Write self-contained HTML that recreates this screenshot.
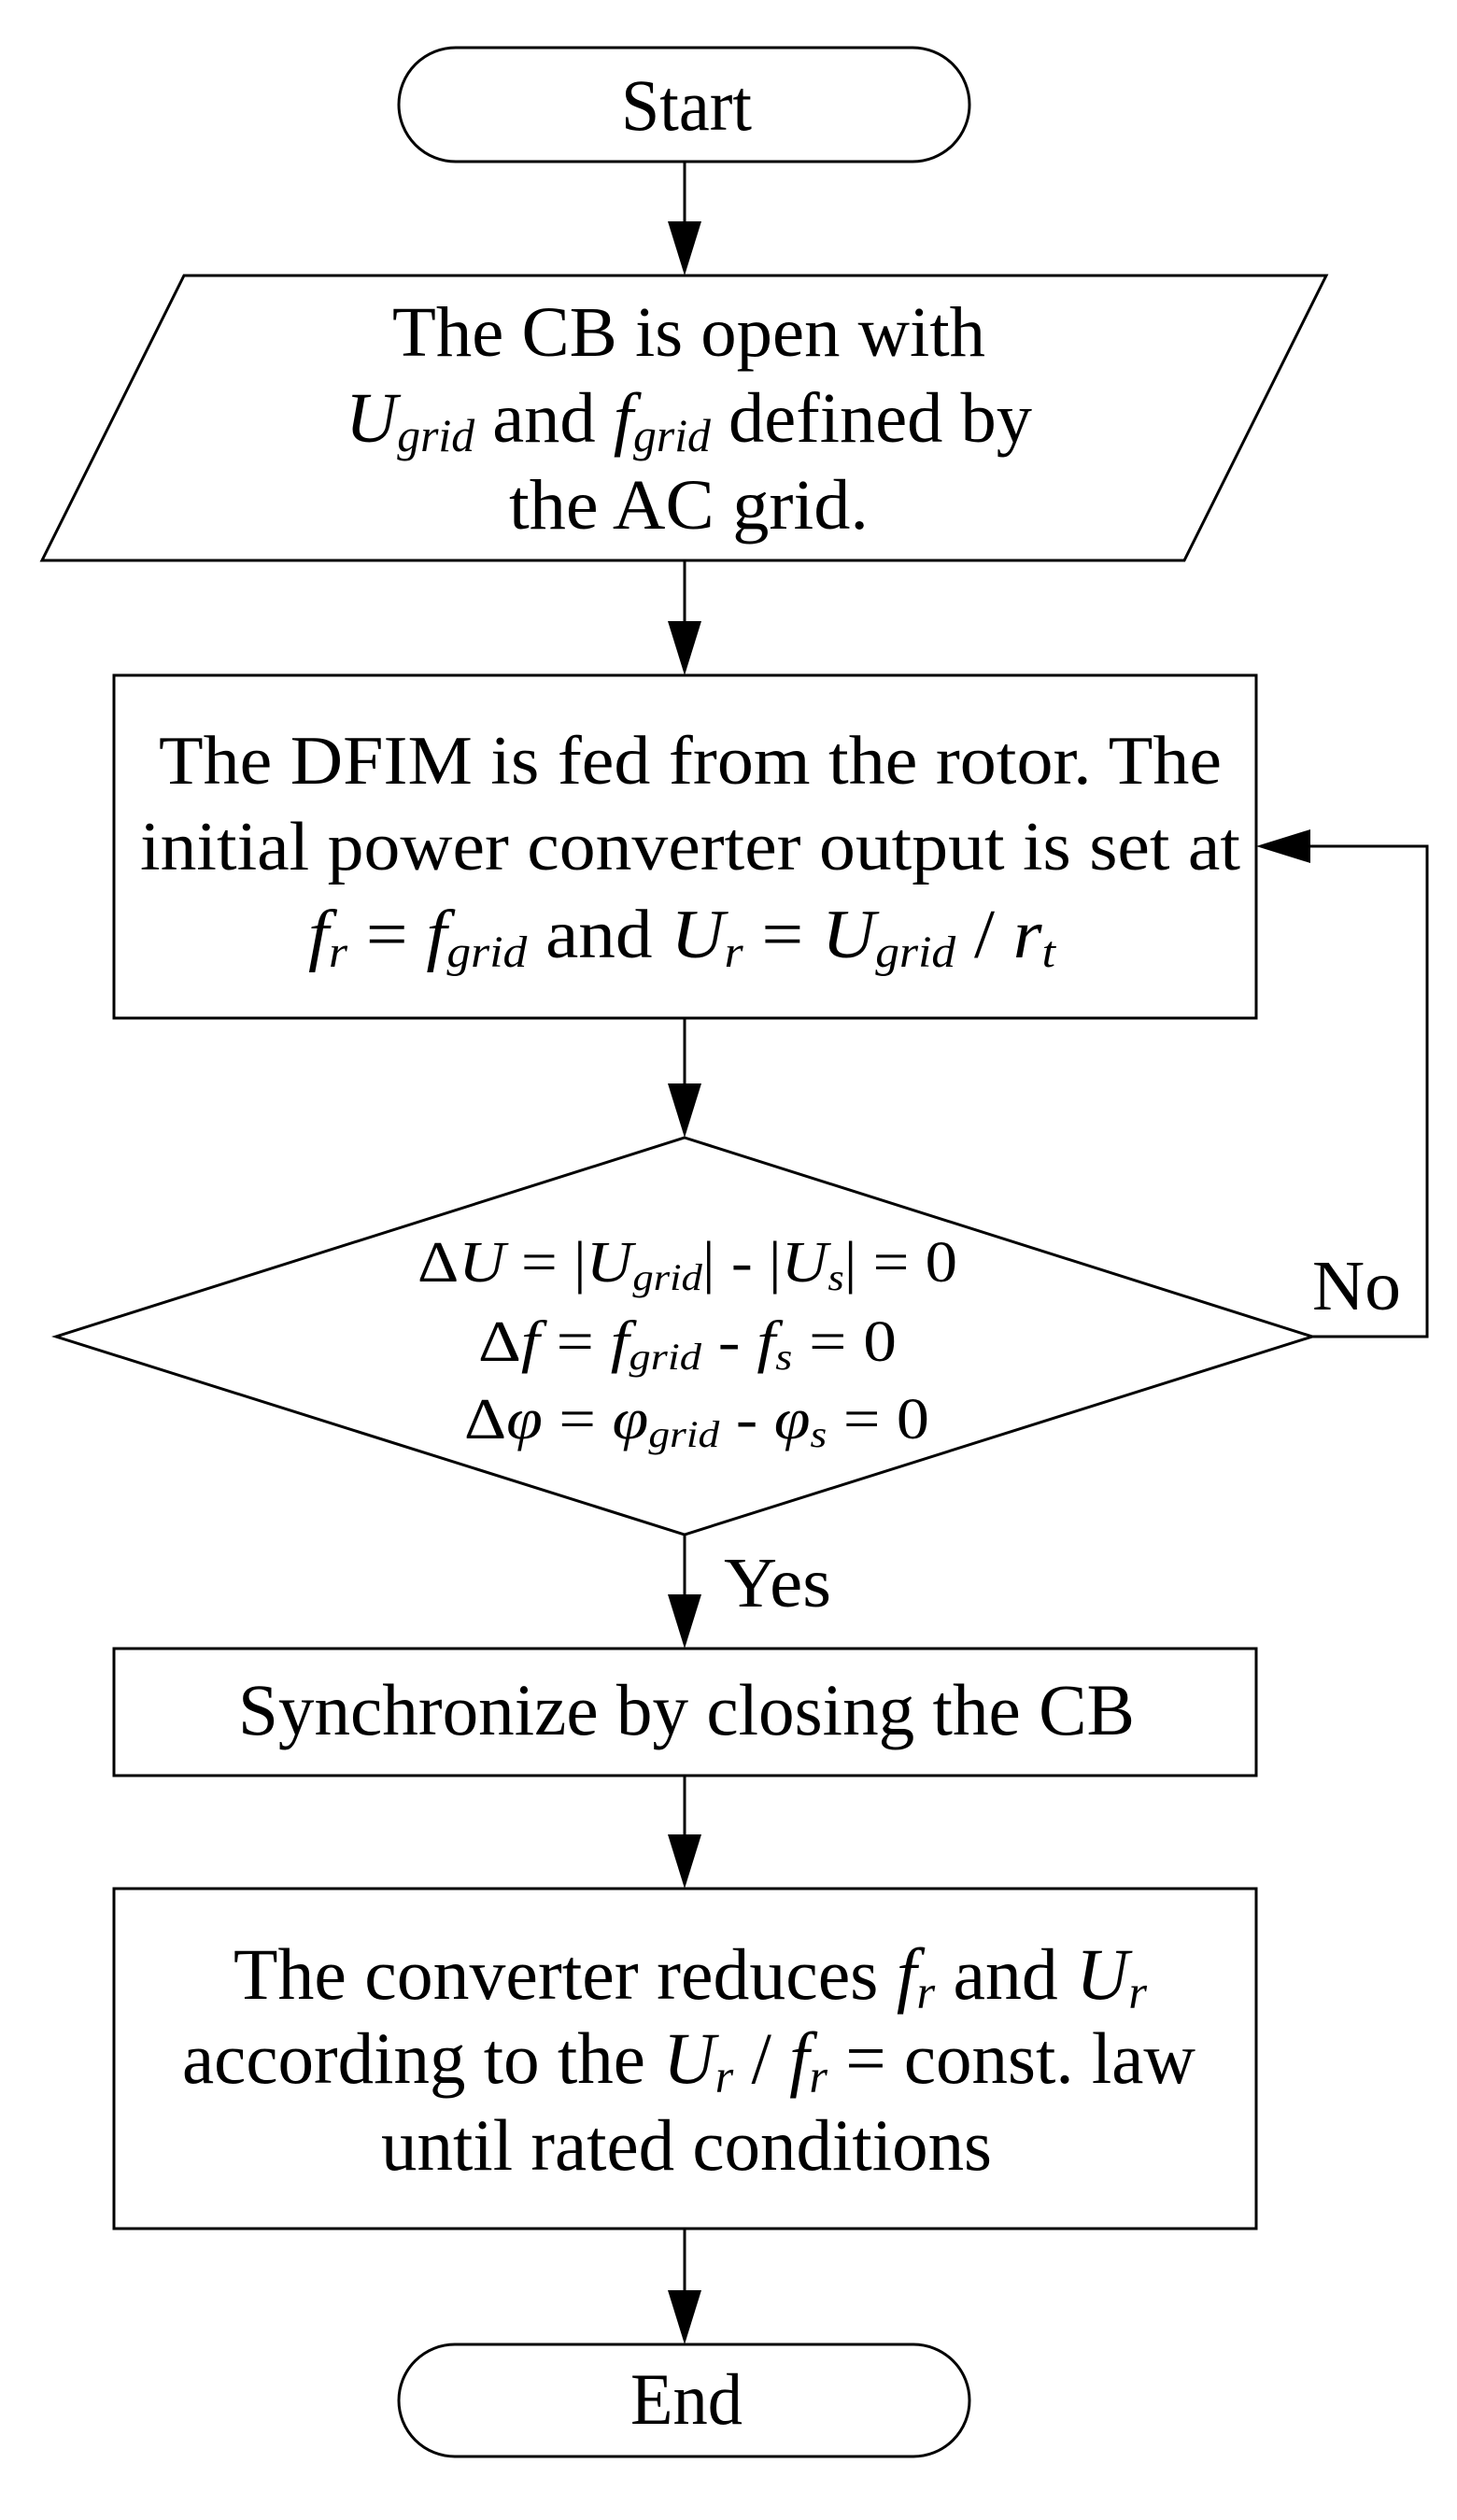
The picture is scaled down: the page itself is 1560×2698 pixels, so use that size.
<!DOCTYPE html>
<html><head><meta charset="utf-8"><style>
html,body{margin:0;padding:0;background:#fff;}
svg{display:block;}
text{font-family:"Liberation Serif",serif;fill:#000;}
.i{font-style:italic;}
.s{font-size:0.65em;font-style:italic;}
</style></head><body>
<svg width="1560" height="2698" viewBox="0 0 1560 2698" xmlns="http://www.w3.org/2000/svg">
<g fill="none" stroke="#000" stroke-width="3">
<rect x="427" y="51" width="611" height="122" rx="61"/>
<polygon points="197,295 1420,295 1268,600 45,600"/>
<rect x="122" y="723" width="1223" height="367"/>
<polygon points="733,1218 1405,1431 733,1643 60,1431"/>
<rect x="122" y="1765" width="1223" height="136"/>
<rect x="122" y="2022" width="1223" height="364"/>
<rect x="427" y="2510" width="611" height="120" rx="60"/>
<line x1="733" y1="173" x2="733" y2="245"/>
<line x1="733" y1="600" x2="733" y2="673"/>
<line x1="733" y1="1090" x2="733" y2="1168"/>
<line x1="733" y1="1643" x2="733" y2="1715"/>
<line x1="733" y1="1901" x2="733" y2="1972"/>
<line x1="733" y1="2386" x2="733" y2="2460"/>
<polyline points="1405,1431 1528,1431 1528,906 1390,906"/>
</g>
<g fill="#000">
<polygon points="715,237 751,237 733,295"/>
<polygon points="715,665 751,665 733,723"/>
<polygon points="715,1160 751,1160 733,1218"/>
<polygon points="715,1707 751,1707 733,1765"/>
<polygon points="715,1964 751,1964 733,2022"/>
<polygon points="715,2452 751,2452 733,2510"/>
<polygon points="1345,906 1403,888 1403,924"/>
</g>
<text x="665" y="139" font-size="78" textLength="140" lengthAdjust="spacingAndGlyphs">Start</text>
<text x="420" y="381" font-size="76" textLength="635" lengthAdjust="spacingAndGlyphs">The CB is open with</text>
<text x="370" y="473" font-size="76" textLength="735" lengthAdjust="spacingAndGlyphs"><tspan class="i">U</tspan><tspan class="s" dy="10">grid</tspan><tspan dy="-10"> and </tspan><tspan class="i">f</tspan><tspan class="s" dy="10">grid</tspan><tspan dy="-10"> defined by</tspan></text>
<text x="545" y="566" font-size="76" textLength="385" lengthAdjust="spacingAndGlyphs">the AC grid.</text>
<text x="170" y="839" font-size="74" textLength="1138" lengthAdjust="spacingAndGlyphs">The DFIM is fed from the rotor. The</text>
<text x="150" y="931" font-size="74" textLength="1178" lengthAdjust="spacingAndGlyphs">initial power converter output is set at</text>
<text x="330" y="1025" font-size="74" textLength="800" lengthAdjust="spacingAndGlyphs"><tspan class="i">f</tspan><tspan class="s" dy="10">r</tspan><tspan dy="-10"> = </tspan><tspan class="i">f</tspan><tspan class="s" dy="10">grid</tspan><tspan dy="-10"> and </tspan><tspan class="i">U</tspan><tspan class="s" dy="10">r</tspan><tspan dy="-10"> = </tspan><tspan class="i">U</tspan><tspan class="s" dy="10">grid</tspan><tspan dy="-10"> / </tspan><tspan class="i">r</tspan><tspan class="s" dy="10">t</tspan></text>
<text x="447" y="1372" font-size="62" textLength="578" lengthAdjust="spacingAndGlyphs">Δ<tspan class="i">U</tspan> = |<tspan class="i">U</tspan><tspan class="s" dy="9">grid</tspan><tspan dy="-9">| - |</tspan><tspan class="i">U</tspan><tspan class="s" dy="9">s</tspan><tspan dy="-9">| = 0</tspan></text>
<text x="512" y="1457" font-size="62" textLength="448" lengthAdjust="spacingAndGlyphs">Δ<tspan class="i">f</tspan> = <tspan class="i">f</tspan><tspan class="s" dy="9">grid</tspan><tspan dy="-9"> - </tspan><tspan class="i">f</tspan><tspan class="s" dy="9">s</tspan><tspan dy="-9"> = 0</tspan></text>
<text x="497" y="1540" font-size="62" textLength="498" lengthAdjust="spacingAndGlyphs">Δ<tspan class="i">φ</tspan> = <tspan class="i">φ</tspan><tspan class="s" dy="9">grid</tspan><tspan dy="-9"> - </tspan><tspan class="i">φ</tspan><tspan class="s" dy="9">s</tspan><tspan dy="-9"> = 0</tspan></text>
<text x="1405" y="1402" font-size="76" textLength="95" lengthAdjust="spacingAndGlyphs">No</text>
<text x="775" y="1720" font-size="76" textLength="115" lengthAdjust="spacingAndGlyphs">Yes</text>
<text x="255" y="1857" font-size="78" textLength="960" lengthAdjust="spacingAndGlyphs">Synchronize by closing the CB</text>
<text x="250" y="2140" font-size="78" textLength="978" lengthAdjust="spacingAndGlyphs">The converter reduces <tspan class="i">f</tspan><tspan class="s" dy="10">r</tspan><tspan dy="-10"> and </tspan><tspan class="i">U</tspan><tspan class="s" dy="10">r</tspan></text>
<text x="195" y="2230" font-size="78" textLength="1085" lengthAdjust="spacingAndGlyphs">according to the <tspan class="i">U</tspan><tspan class="s" dy="10">r</tspan><tspan dy="-10"> / </tspan><tspan class="i">f</tspan><tspan class="s" dy="10">r</tspan><tspan dy="-10"> = const. law</tspan></text>
<text x="408" y="2323" font-size="78" textLength="654" lengthAdjust="spacingAndGlyphs">until rated conditions</text>
<text x="675" y="2595" font-size="78" textLength="120" lengthAdjust="spacingAndGlyphs">End</text>
</svg>
</body></html>
